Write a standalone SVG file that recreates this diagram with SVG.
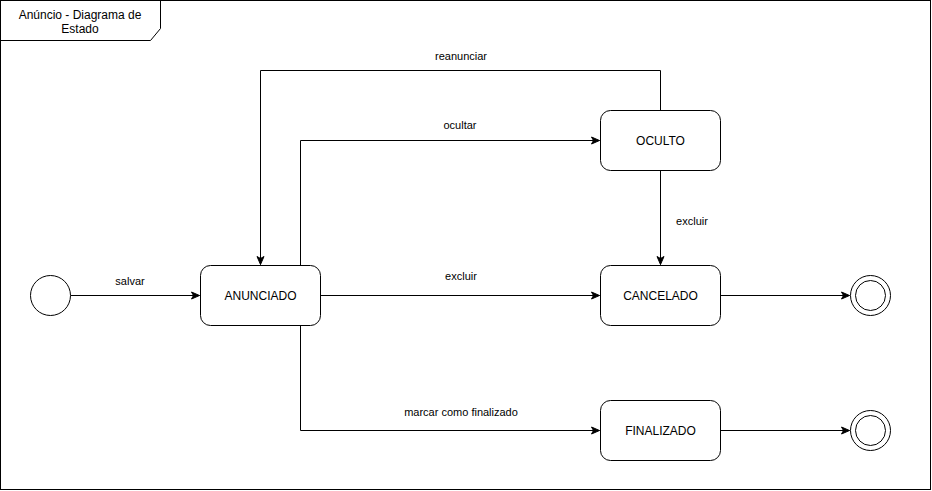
<svg xmlns="http://www.w3.org/2000/svg" width="932" height="491" viewBox="0 0 932 491">
<defs>
<style>
.st{fill:#fff;stroke:#000;stroke-width:1}
.ln{fill:none;stroke:#000;stroke-width:1}
.nt{font-family:"Liberation Sans",Arial,sans-serif;font-size:12px;fill:#000;text-anchor:middle}
.et{font-family:"Liberation Sans",Arial,sans-serif;font-size:11px;fill:#000;text-anchor:middle}
</style>
<marker id="arr" markerUnits="userSpaceOnUse" markerWidth="10" markerHeight="10" viewBox="0 0 10 10" refX="9" refY="5" orient="auto">
<path d="M1,1.5 L9,5 L1,8.5 L3,5 Z" fill="#000" stroke="#000" stroke-width="1"/>
</marker>
</defs>
<rect width="932" height="491" fill="#fff"/>
<g id="frame">
<rect class="ln" x="0.5" y="0.5" width="930" height="489"/>
<path class="ln" d="M0.5,0.5 H160.5 V28.5 L150.5,40.5 H0.5"/>
<text class="nt" x="80" y="19">Anúncio - Diagrama de</text>
<text class="nt" x="80" y="33">Estado</text>
</g>
<g id="connectors">
<path class="ln" d="M70.5,295.5 H199.5" marker-end="url(#arr)"/>
<text class="et" x="130" y="285">salvar</text>
<path class="ln" d="M320.5,295.5 H599.5" marker-end="url(#arr)"/>
<text class="et" x="461" y="280">excluir</text>
<path class="ln" d="M300.5,265.5 V140.5 H599.5" marker-end="url(#arr)"/>
<text class="et" x="460" y="129">ocultar</text>
<path class="ln" d="M660.5,110.5 V70.5 H260.5 V264.5" marker-end="url(#arr)"/>
<text class="et" x="461" y="60">reanunciar</text>
<path class="ln" d="M660.5,170.5 V264.5" marker-end="url(#arr)"/>
<text class="et" x="692" y="225">excluir</text>
<path class="ln" d="M300.5,325.5 V430.5 H599.5" marker-end="url(#arr)"/>
<text class="et" x="461" y="416">marcar como finalizado</text>
<path class="ln" d="M720.5,295.5 H849.5" marker-end="url(#arr)"/>
<path class="ln" d="M720.5,430.5 H849.5" marker-end="url(#arr)"/>
</g>
<g id="initial">
<circle class="st" cx="50.5" cy="295.5" r="20"/>
</g>
<g id="anunciado">
<rect class="st" x="200.5" y="265.5" width="120" height="60" rx="10" ry="10"/>
<text class="nt" x="260.5" y="300">ANUNCIADO</text>
</g>
<g id="oculto">
<rect class="st" x="600.5" y="110.5" width="120" height="60" rx="10" ry="10"/>
<text class="nt" x="660.5" y="145">OCULTO</text>
</g>
<g id="cancelado">
<rect class="st" x="600.5" y="265.5" width="120" height="60" rx="10" ry="10"/>
<text class="nt" x="660.5" y="300">CANCELADO</text>
</g>
<g id="finalizado">
<rect class="st" x="600.5" y="400.5" width="120" height="60" rx="10" ry="10"/>
<text class="nt" x="660.5" y="435">FINALIZADO</text>
</g>
<g id="final1">
<circle class="st" cx="870.5" cy="295.5" r="20"/>
<circle class="st" cx="870.5" cy="295.5" r="15"/>
</g>
<g id="final2">
<circle class="st" cx="870.5" cy="430.5" r="20"/>
<circle class="st" cx="870.5" cy="430.5" r="15"/>
</g>
</svg>
